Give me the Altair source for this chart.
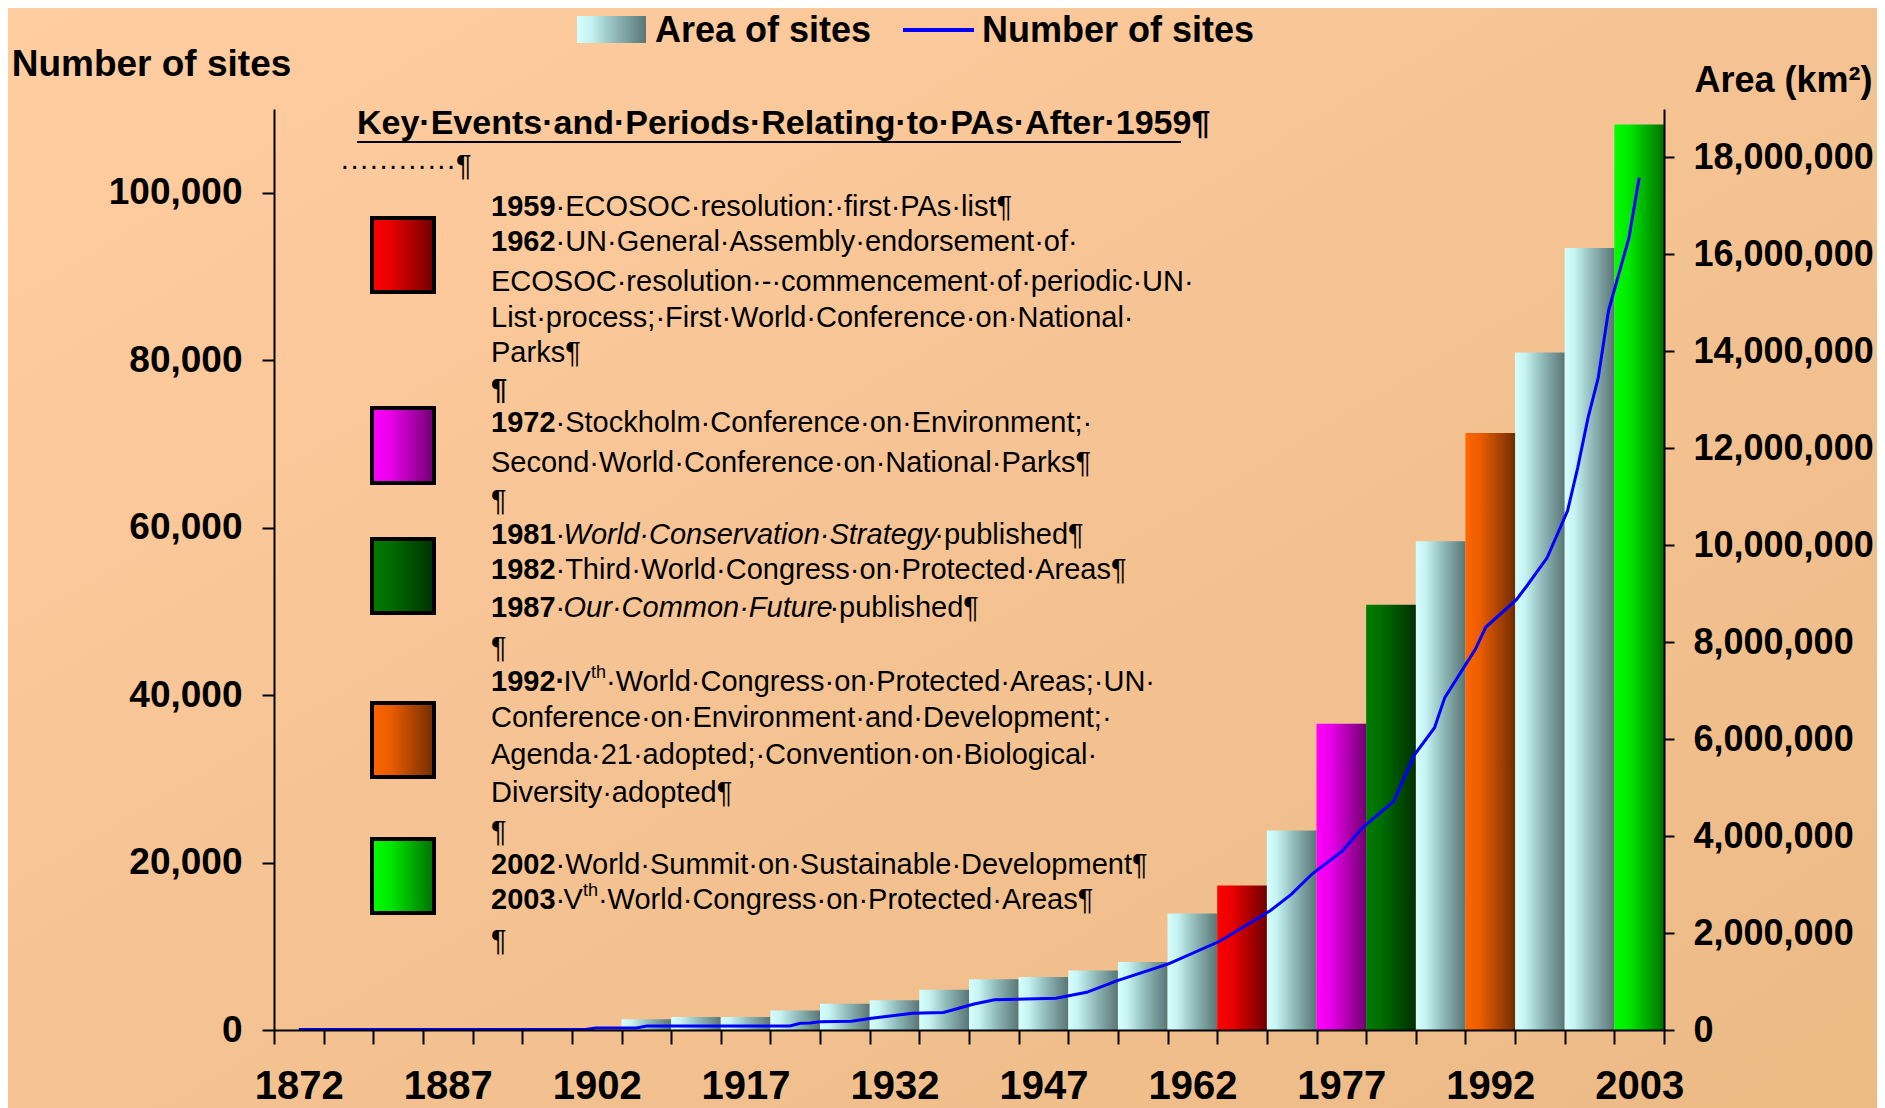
import altair as alt

# ---------------- data ----------------
categories = ["1872", "1877", "1882", "1887", "1892", "1897", "1902", "1907", "1912", "1917",
              "1922", "1927", "1932", "1937", "1942", "1947", "1952", "1957", "1962", "1967",
              "1972", "1977", "1982", "1987", "1992", "1997", "2000", "2003"]
area_km2 = [None, None, None, None, None, None, None, 220000, 270000, 270000,
            400000, 540000, 615000, 830000, 1045000, 1095000, 1225000, 1405000, 2405000, 2980000,
            4118000, 6320000, 8775000, 10085000, 12315000, 13975000, 16130000, 18680000]
bar_style = ["plain"] * 19 + ["red", "plain", "magenta", "dkgreen", "plain", "orange",
                              "plain", "plain", "green"]
shown_labels = ["1872", "1887", "1902", "1917", "1932", "1947", "1962", "1977", "1992", "2003"]

line_years = [1872, 1900, 1901, 1905, 1906, 1920, 1921, 1922, 1923, 1926, 1928, 1932, 1935,
              1938, 1940, 1946, 1949, 1952, 1957, 1962, 1965, 1967, 1969, 1971, 1974, 1976,
              1979, 1981, 1983, 1984, 1987, 1988, 1991, 1992, 1994, 1996, 1997, 1998, 1999,
              2000, 2002, 2003]
line_sites = [50, 50, 250, 250, 470, 470, 800, 850, 1000, 1050, 1400, 2000, 2100,
              3100, 3600, 3800, 4500, 5900, 7900, 10600, 12800, 14300, 16200, 18600, 21400, 24200,
              27300, 32800, 36100, 39700, 45500, 48100, 51400, 53000, 56400, 62000, 67200, 73100, 77900,
              85900, 94600, 101800]

left_ticks = [0, 20000, 40000, 60000, 80000, 100000]
right_ticks = [0, 2000000, 4000000, 6000000, 8000000, 10000000, 12000000, 14000000,
               16000000, 18000000]

box_title = "Key·Events·and·Periods·Relating·to·PAs·After·1959¶"
box_leader = "············¶"
box_lines = [
    [("1959", "b"), ("·ECOSOC·resolution:·first·PAs·list¶", "r")],
    [("1962", "b"), ("·UN·General·Assembly·endorsement·of·", "r")],
    [("ECOSOC·resolution·-·commencement·of·periodic·UN·", "r")],
    [("List·process;·First·World·Conference·on·National·", "r")],
    [("Parks¶", "r")],
    [("¶", "b")],
    [("1972", "b"), ("·Stockholm·Conference·on·Environment;·", "r")],
    [("Second·World·Conference·on·National·Parks¶", "r")],
    [("¶", "r")],
    [("1981", "b"), ("·", "r"), ("World·Conservation·Strategy", "i"), ("·published¶", "r")],
    [("1982", "b"), ("·Third·World·Congress·on·Protected·Areas¶", "r")],
    [("1987", "b"), ("·", "r"), ("Our·Common·Future", "i"), ("·published¶", "r")],
    [("¶", "r")],
    [("1992·", "b"), ("IV", "r"), ("th", "s"), ("·World·Congress·on·Protected·Areas;·UN·", "r")],
    [("Conference·on·Environment·and·Development;·", "r")],
    [("Agenda·21·adopted;·Convention·on·Biological·", "r")],
    [("Diversity·adopted¶", "r")],
    [("¶", "r")],
    [("2002", "b"), ("·World·Summit·on·Sustainable·Development¶", "r")],
    [("2003", "b"), ("·", "r"), ("V", "r"), ("th", "s"), ("·World·Congress·on·Protected·Areas¶", "r")],
    [("¶", "r")],
]
swatch_styles = ["red", "magenta", "dkgreen", "orange", "green"]
legend_labels = ["Area of sites", "Number of sites"]

# ---------------- layout / styling ----------------
W, H = 1390, 921
OX, OY = 274, 109          # plot origin on the page
FONT = "Liberation Sans, Arial, sans-serif"
NARROW = "Liberation Sans Narrow, Arial Narrow, Liberation Sans, sans-serif"

GRADS = {
    "plain": [(0, "#D4FFFF"), (0.2, "#C6F2F2"), (0.55, "#90B9B9"), (1, "#5A7676")],
    "red": [(0, "#FF0000"), (0.3, "#E80000"), (1, "#700000")],
    "magenta": [(0, "#FF00FF"), (0.3, "#E800E8"), (1, "#700070")],
    "dkgreen": [(0, "#007C00"), (0.3, "#006E00"), (1, "#003000")],
    "orange": [(0, "#FF6600"), (0.3, "#EA5D00"), (1, "#722C00")],
    "green": [(0, "#00FF00"), (0.3, "#00E800"), (1, "#007000")],
}


def grad(stops, x2=1, y2=0):
    return alt.LinearGradient(gradient="linear",
                              stops=[alt.GradientStop(offset=o, color=c) for o, c in stops],
                              x1=0, y1=0, x2=x2, y2=y2)


# Arial/Helvetica advance widths (per 1000 em) for placing text runs
REG = dict(zip("ABCDEFGHIJKLMNOPQRSTUVWXYZ",
               [667, 667, 722, 722, 667, 611, 778, 722, 278, 500, 667, 556, 833, 722, 778, 667,
                778, 722, 667, 611, 722, 667, 944, 667, 667, 611]))
REG.update(zip("abcdefghijklmnopqrstuvwxyz",
               [556, 556, 500, 556, 556, 278, 556, 556, 222, 222, 500, 222, 833, 556, 556, 556,
                556, 333, 500, 278, 556, 500, 722, 500, 500, 500]))
REG.update({" ": 278, ",": 278, "-": 333, ".": 278, ":": 278, ";": 278, "·": 278, "¶": 537})
REG.update({d: 556 for d in "0123456789"})
BOLD = {d: 556 for d in "0123456789"}
BOLD.update({"·": 278, "¶": 556})


def tw(s, size, bold=False):
    return sum((BOLD.get(ch, 611) if bold else REG.get(ch, 556)) for ch in s) / 1000.0 * size


# ---------------- background ----------------
one = alt.Data(values=[{"k": 1}])
bg = alt.Chart(one).mark_rect(
    color=grad([(0, "#FFCDA0"), (0.45, "#F6C494"), (1, "#EBBA85")], x2=1, y2=1)
).encode(x=alt.value(8 - OX), x2=alt.value(1885 - OX), y=alt.value(8 - OY), y2=alt.value(1108 - OY))

# ---------------- bars (area, right axis) ----------------
bar_rows = [{"cat": c, "area": a, "style": s}
            for c, a, s in zip(categories, area_km2, bar_style) if a is not None]
label_expr = ("indexof([" + ",".join("'%s'" % l for l in shown_labels) +
              "], datum.label) >= 0 ? datum.label : ''")
xband = alt.X("cat:N", sort=categories,
              scale=alt.Scale(domain=categories, paddingInner=0, paddingOuter=0),
              axis=alt.Axis(title=None, labelExpr=label_expr, tickBand="extent", tickSize=14,
                            tickWidth=2, tickColor="black", domainColor="black", domainWidth=2,
                            labelFont=NARROW, labelFontSize=40, labelFontWeight="bold",
                            labelColor="black", labelPadding=22, labelAngle=0,
                            labelOverlap=False, grid=False, zindex=2))
yright = alt.Y("area:Q", scale=alt.Scale(domain=[0, 19000000], nice=False, zero=True),
               axis=alt.Axis(orient="right", values=right_ticks, format=",d", grid=False,
                             tickSize=10, tickWidth=2, tickColor="black", domainColor="black",
                             domainWidth=2, labelFont=FONT, labelFontSize=36,
                             labelFontWeight="bold", labelColor="black", labelPadding=19,
                             labelLimit=0,
                             title="Area (km²)", titleAngle=0, titleX=119, titleY=-29,
                             titleAlign="center", titleBaseline="middle", titleFont=FONT,
                             titleFontSize=36, titleFontWeight="bold", titleColor="black",
                             zindex=2))
bar_layers = [
    alt.Chart().mark_bar(color=grad(GRADS[s])).encode(x=xband, y=yright)
    .transform_filter(alt.datum.style == s)
    for s in GRADS
]
bars = alt.layer(*bar_layers, data=alt.Data(values=bar_rows))

# ---------------- line (number of sites, left axis) ----------------
step = (2003 - 1872) / 27.0
line_rows = [{"year": y, "sites": v} for y, v in zip(line_years, line_sites)]
line = alt.Chart(alt.Data(values=line_rows)).mark_line(color="#0000FF", strokeWidth=3).encode(
    x=alt.X("year:Q", scale=alt.Scale(domain=[1872 - step / 2, 2003 + step / 2], nice=False,
                                      zero=False), axis=None),
    y=alt.Y("sites:Q", scale=alt.Scale(domain=[0, 110000], nice=False),
            axis=alt.Axis(orient="left", values=left_ticks, format=",d", grid=False,
                          tickSize=12, tickWidth=2, tickColor="black", domainColor="black",
                          domainWidth=2, labelFont=FONT, labelFontSize=37,
                          labelFontWeight="bold", labelColor="black", labelPadding=20,
                          title="Number of sites", titleAngle=0, titleX=151 - OX,
                          titleY=64 - OY, titleAlign="center", titleBaseline="middle",
                          titleFont=FONT, titleFontSize=37, titleFontWeight="bold",
                          titleColor="black", zindex=2)),
)

# ---------------- text box ----------------
line_y = [207, 242, 282, 318, 353, 390, 423, 463, 501, 535, 570, 608, 648, 682, 718, 755,
          793, 832, 865, 900, 941]
X0 = 491
FS = 29
runs = {"r": [], "b": [], "i": [], "s": []}
for segs, yc in zip(box_lines, line_y):
    x = X0
    for txt, st in segs:
        if st == "s":
            runs[st].append({"t": txt, "px": x - OX, "py": yc - 9 - OY})
            x += tw(txt, 18)
        else:
            runs[st].append({"t": txt, "px": x - OX, "py": yc - OY})
            x += tw(txt, FS, bold=(st == "b"))
runs["b"].append({"t": box_title, "px": 357 - OX, "py": 124 - OY, "big": 1})
runs["r"].append({"t": box_leader, "px": 340 - OX, "py": 166 - OY})


def text_layer(rows, **kw):
    return alt.Chart(alt.Data(values=rows)).mark_text(
        align="left", baseline="middle", color="black", font=FONT, **kw
    ).encode(x=alt.X("px:Q", scale=None), y=alt.Y("py:Q", scale=None), text=alt.Text("t:N"))


big_rows = [r for r in runs["b"] if r.get("big")]
bold_rows = [r for r in runs["b"] if not r.get("big")]
texts = [
    text_layer(runs["r"], fontSize=FS),
    text_layer(bold_rows, fontSize=FS, fontWeight="bold"),
    text_layer(runs["i"], fontSize=FS, fontStyle="italic"),
    text_layer(runs["s"], fontSize=18),
    text_layer(big_rows, fontSize=34, fontWeight="bold"),
]
underline = alt.Chart(one).mark_rule(color="black", strokeWidth=2).encode(
    x=alt.value(357 - OX), x2=alt.value(1181 - OX), y=alt.value(142 - OY))

box_y = [(218, 292), (408, 483), (539, 613), (703, 777), (839, 913)]
swatches = [
    alt.Chart(one).mark_rect(color=grad(GRADS[s]), stroke="black", strokeWidth=4).encode(
        x=alt.value(372 - OX), x2=alt.value(434 - OX), y=alt.value(y0 - OY), y2=alt.value(y1 - OY))
    for s, (y0, y1) in zip(swatch_styles, box_y)
]

# ---------------- legend (top) ----------------
leg_swatch = alt.Chart(one).mark_rect(color=grad(GRADS["plain"])).encode(
    x=alt.value(577 - OX), x2=alt.value(646 - OX), y=alt.value(16 - OY), y2=alt.value(43 - OY))
leg_line = alt.Chart(one).mark_rule(color="#0000FF", strokeWidth=4).encode(
    x=alt.value(903 - OX), x2=alt.value(974 - OX), y=alt.value(30 - OY))
leg_text = alt.Chart(alt.Data(values=[{"t": legend_labels[0], "px": 655 - OX, "py": 31 - OY},
                                      {"t": legend_labels[1], "px": 982 - OX, "py": 31 - OY}])
                     ).mark_text(align="left", baseline="middle", color="black", font=FONT,
                                 fontSize=36, fontWeight="bold").encode(
    x=alt.X("px:Q", scale=None), y=alt.Y("py:Q", scale=None), text=alt.Text("t:N"))

chart = alt.layer(
    bg, bars, line, underline, *swatches, *texts, leg_swatch, leg_line, leg_text
).resolve_scale(x="independent", y="independent").properties(
    width=W, height=H,
    autosize=alt.AutoSizeParams(type="none"),
    padding={"left": OX - 8, "top": OY - 8, "right": 1877 - OX - W, "bottom": 1100 - (OY - 8) - H},
    background="#F4C293",
).configure_view(stroke=None)

chart.save("out.html", embed_options={"renderer": "svg", "actions": False})
